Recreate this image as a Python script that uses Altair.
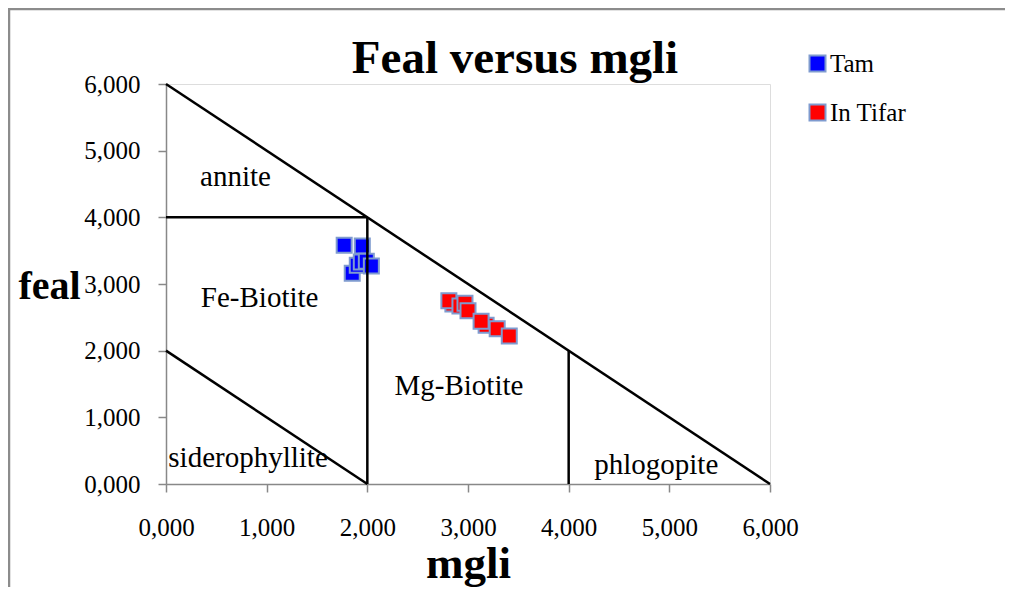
import altair as alt
import pandas as pd

# Data
tam_mgli = [1.77, 1.95, 1.85, 1.90, 1.94, 1.99, 2.04]
tam_feal = [3.58, 3.57, 3.16, 3.28, 3.33, 3.34, 3.27]
tif_mgli = [2.85, 2.81, 2.92, 2.97, 3.00, 3.18, 3.13, 3.29, 3.41]
tif_feal = [2.70, 2.75, 2.67, 2.71, 2.60, 2.38, 2.44, 2.33, 2.22]
series_names = ["Tam", "In Tifar"]
series_colors = ["#0000FF", "#FF0000"]

# Classification diagram boundaries
seg_x1 = [0, 0, 2, 4, 0]
seg_y1 = [6, 4, 0, 0, 2]
seg_x2 = [6, 2, 2, 4, 2]
seg_y2 = [0, 4, 4, 2, 0]

# Field labels
field_names = ["annite", "Fe-Biotite", "Mg-Biotite", "siderophyllite", "phlogopite"]
field_x = [0.69, 0.93, 2.91, 0.815, 4.87]
field_y = [4.47, 2.66, 1.335, 0.255, 0.15]

tick_vals = [0, 1, 2, 3, 4, 5, 6]

FONT = "Liberation Serif"

pts = pd.DataFrame({
    "mgli": tam_mgli + tif_mgli,
    "feal": tam_feal + tif_feal,
    "series": ["Tam"] * len(tam_mgli) + ["In Tifar"] * len(tif_mgli),
    "order": list(range(len(tam_mgli) + len(tif_mgli))),
})
segs = pd.DataFrame({"x1": seg_x1, "y1": seg_y1, "x2": seg_x2, "y2": seg_y2})
fields = pd.DataFrame({"name": field_names, "x": field_x, "y": field_y})

label_expr = "replace(format(datum.value, '.3f'), '.', ',')"

xscale = alt.Scale(domain=[0, 6], nice=False, zero=True)
yscale = alt.Scale(domain=[0, 6], nice=False, zero=True)

x_axis = alt.Axis(
    values=tick_vals, labelExpr=label_expr, grid=False,
    title="mgli", titleFont=FONT, titleFontSize=45, titleFontWeight="bold",
    titleColor="black", titleBaseline="alphabetic", titleY=93, titleX=302,
    titleAlign="center",
    labelFont=FONT, labelFontSize=25, labelColor="black",
    labelBaseline="alphabetic", labelPadding=43,
    tickSize=8, tickColor="#888888", tickWidth=1.5,
    domainColor="#888888", domainWidth=1.5, labelFlush=False,
)
y_axis = alt.Axis(
    values=tick_vals, labelExpr=label_expr, grid=False,
    title="feal", titleFont=FONT, titleFontSize=40, titleFontWeight="bold",
    titleColor="black", titleAngle=0, titleAlign="center",
    titleBaseline="alphabetic", titleX=-117, titleY=214,
    labelFont=FONT, labelFontSize=25, labelColor="black",
    labelPadding=18, labelBaseline="middle",
    tickSize=8, tickColor="#888888", tickWidth=1.5,
    domainColor="#888888", domainWidth=1.5, labelFlush=False,
)

frame = alt.Chart(pd.DataFrame({"a": [0]})).mark_rect(
    fill=None, stroke="#8c8c8c", strokeWidth=2.5
).encode(
    x=alt.value(-157), x2=alt.value(900), y=alt.value(-75), y2=alt.value(560)
)

points = alt.Chart(pts).mark_square(
    size=225, filled=True, opacity=1, stroke="#7f9bcf", strokeWidth=2
).encode(
    x=alt.X("mgli:Q", scale=xscale, axis=x_axis),
    y=alt.Y("feal:Q", scale=yscale, axis=y_axis),
    color=alt.Color(
        "series:N",
        scale=alt.Scale(domain=series_names, range=series_colors),
        legend=alt.Legend(
            title=None, orient="none", legendX=639, legendY=-33,
            symbolType="square", symbolSize=256, symbolStrokeWidth=2,
            symbolStrokeColor="#7f9bcf", symbolOpacity=1,
            labelFont=FONT, labelFontSize=25, labelColor="black",
            labelOffset=0, rowPadding=23,
        ),
    ),
    order=alt.Order("order:Q"),
)

lines = alt.Chart(segs).mark_rule(color="black", strokeWidth=2.5).encode(
    x="x1:Q", y="y1:Q", x2="x2:Q", y2="y2:Q"
)

labels = alt.Chart(fields).mark_text(
    font=FONT, fontSize=29, color="black", align="center", baseline="alphabetic"
).encode(x="x:Q", y="y:Q", text="name:N")

chart = alt.layer(frame, points, lines, labels).properties(
    width=604, height=400,
    title=alt.TitleParams(
        "Feal versus mgli", font=FONT, fontSize=47, fontWeight="bold",
        color="black", anchor="middle", dx=47, dy=112, baseline="alphabetic", offset=0,
    ),
    autosize=alt.AutoSizeParams(type="none"),
    padding={"left": 158, "top": 76, "right": 235, "bottom": 103},
).configure_view(stroke="transparent", strokeWidth=0).configure(
    background="white", font=FONT
).configure_legend(labelFont=FONT)

chart.save("out.html", embed_options={"renderer": "svg", "actions": False})
